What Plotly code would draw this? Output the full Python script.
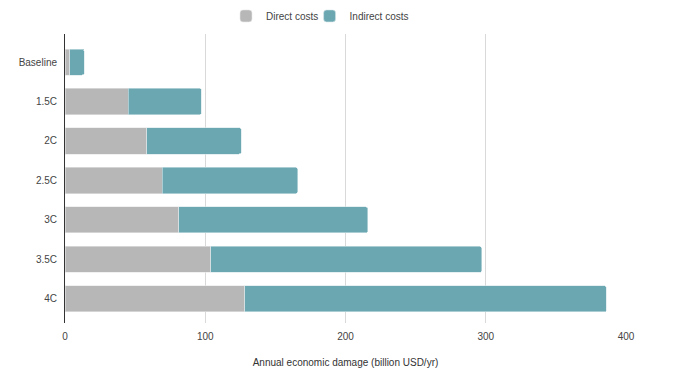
import plotly.graph_objects as go

categories = ["Baseline", "1.5C", "2C", "2.5C", "3C", "3.5C", "4C"]
direct_costs = [3.3, 45, 58.3, 69.5, 81, 104, 128]
indirect_costs = [10.5, 52.3, 67.5, 96.3, 135, 193, 258]
x_ticks = [0, 100, 200, 300, 400]

fig = go.Figure()
fig.add_trace(go.Bar(
    y=categories, x=direct_costs, orientation="h", name="Direct costs",
    marker=dict(color="#b7b7b7", line=dict(color="#e8e8e8", width=0.6)),
    legend="legend", showlegend=True,
))
fig.add_trace(go.Bar(
    y=categories, x=indirect_costs, orientation="h", name="Indirect costs",
    marker=dict(color="#6aa7b1", line=dict(color="#d6e6e9", width=0.6)),
    legend="legend2", showlegend=True,
))

legend_style = dict(orientation="h", xanchor="left", y=0.979, yanchor="middle",
                    yref="container", font=dict(size=10, color="#444444"),
                    bgcolor="rgba(0,0,0,0)", visible=True)

# page body has an 8px margin, so the figure is sized to fit the 678x386 window
fig.update_layout(
    showlegend=True,
    barmode="stack",
    bargap=0.34,
    barcornerradius=2,
    width=670, height=378,
    margin=dict(l=57, r=52, t=26, b=63, autoexpand=False),
    paper_bgcolor="white", plot_bgcolor="white",
    font=dict(family="Arial, Liberation Sans, sans-serif", size=10, color="#444444"),
    legend=dict(x=0.287, **legend_style),
    legend2=dict(x=0.436, **legend_style),
    xaxis=dict(range=[0, 400], tickvals=x_ticks, showgrid=True, gridcolor="#d9d9d9",
               gridwidth=1, zeroline=False, showline=False, ticks="", automargin=False,
               ticklabelstandoff=6,
               title=dict(text="Annual economic damage (billion USD/yr)", standoff=17,
                          font=dict(size=10, color="#333333"))),
    yaxis=dict(range=[6.61, -0.71], showgrid=False, zeroline=False, showline=True,
               linecolor="#333333", linewidth=1, ticks="", ticklabelstandoff=5,
               automargin=False),
)

fig.write_html("out.html")
